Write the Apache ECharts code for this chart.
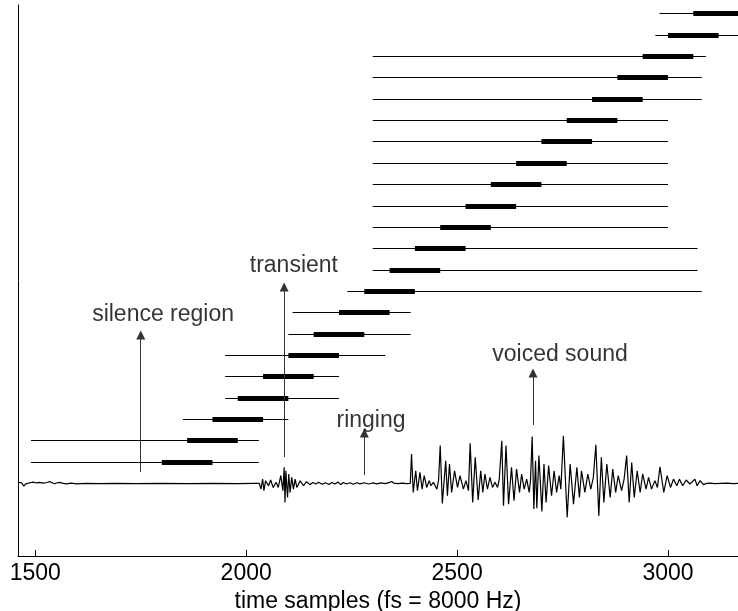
<!DOCTYPE html>
<html>
<head>
<meta charset="utf-8">
<style>
  html, body { margin: 0; padding: 0; background: #fff; }
  #chart { width: 738px; height: 611px; }
</style>
<script src="https://cdn.jsdelivr.net/npm/echarts@6/dist/echarts.min.js"></script>
</head>
<body>
<div id="chart"></div>
<script>
// Analysis frames: frame k sits at height level k + 1 above the waveform baseline.
const frameStart = [1800, 1860, 1920, 1980, 2040, 2100, 2160, 2220, 2280, 2340, 2400,
                    2460, 2520, 2580, 2640, 2700, 2760, 2820, 2880, 2940, 3000, 3060];
const frameEnd   = [1920, 1980, 2040, 2100, 2160, 2220, 2280, 2340, 2400, 2460, 2520,
                    2580, 2640, 2700, 2760, 2820, 2880, 2940, 3000, 3060, 3120, 3180];
// Search window around each frame (thin line)
const windowStart = [1490, 1490, 1850, 1950, 1950, 1950, 2100, 2110, 2240, 2300, 2300,
                     2300, 2300, 2300, 2300, 2300, 2300, 2300, 2300, 2300, 2970, 2980];
const windowEnd   = [2030, 2030, 2100, 2220, 2220, 2330, 2390, 2390, 3080, 3070, 3070,
                     3000, 3000, 3000, 3000, 3000, 3000, 3080, 3080, 3090, 3170, 3170];

// Speech waveform, [sample, amplitude]
const waveSilence = [
  [1461, 0.05], [1464, 0.14], [1468, 0.02], [1473, -0.13], [1477, -0.02], [1481, 0.0],
  [1488, 0.03], [1495, 0.06], [1503, 0.02], [1510, 0.05], [1519, 0.01], [1527, 0.04],
  [1535, 0.08], [1541, 0.02], [1546, -0.02], [1552, 0.03], [1558, 0.05], [1566, 0.0],
  [1574, -0.02], [1585, 0.01], [1598, -0.02], [1620, 0.0], [1650, -0.01], [1690, 0.0],
  [1740, -0.01], [1800, 0.0], [1860, -0.01], [1920, 0.0], [1980, -0.01], [2020, 0.0], [2031, 0.0]
];
const waveTransient = [
  [2035, -0.27], [2039, 0.20], [2042, -0.34], [2046, 0.12], [2053, -0.11], [2058, 0.16],
  [2064, -0.19], [2071, 0.05], [2076, -0.19], [2082, 0.36], [2087, -0.34], [2090, 0.75],
  [2092, -0.89], [2094, 0.59], [2098, -0.66], [2101, 0.44], [2104, -0.42], [2108, 0.28],
  [2112, -0.27], [2116, 0.20], [2120, -0.19], [2128, 0.12], [2136, -0.11], [2143, 0.08],
  [2151, -0.06]
];
const waveRinging = [
  [2158, 0.04], [2165, -0.03], [2172, 0.05], [2180, -0.04], [2188, 0.03], [2196, -0.05],
  [2203, 0.04], [2210, -0.03], [2218, 0.06], [2224, -0.06], [2230, 0.04], [2238, -0.03],
  [2246, 0.03], [2254, -0.04], [2262, 0.03], [2270, -0.02], [2280, 0.03], [2290, -0.03],
  [2300, 0.02], [2310, -0.02], [2320, 0.02], [2330, -0.01], [2340, 0.05], [2345, 0.09],
  [2350, 0.01], [2360, -0.01], [2370, 0.01], [2380, -0.01], [2389, 0.0]
];
const waveVoiced = [
  [2392, 1.38], [2396, -0.42], [2402, 0.59], [2406, -0.34], [2412, 0.52], [2417, -0.27],
  [2422, 0.36], [2428, -0.19], [2434, 0.13], [2438, -0.11], [2444, 0.05], [2452, -0.27],
  [2456, 0.13],
  [2460, 1.77], [2465, -0.94], [2473, 1.06], [2477, -0.58], [2482, 0.91], [2487, -0.42],
  [2494, 0.59], [2501, -0.19], [2507, 0.36], [2515, -0.27], [2521, 0.13], [2527, -0.34],
  [2531, 1.88], [2537, -0.89], [2543, 1.22], [2550, -0.78], [2556, 0.59], [2561, -0.42],
  [2566, 0.44], [2572, -0.27], [2578, 0.28], [2584, -0.19], [2590, 0.05], [2596, -0.19],
  [2600, 0.20],
  [2606, 2.00], [2610, -1.05], [2616, 1.77], [2622, -0.97], [2629, 0.75], [2635, -0.81],
  [2641, 0.67], [2648, -0.42], [2653, 0.44], [2659, -0.27], [2665, 0.20], [2671, -0.42],
  [2674, 0.13],
  [2678, 2.19], [2682, -1.20], [2686, 1.06], [2689, -1.16], [2694, 1.30], [2701, -1.31],
  [2706, 0.91], [2711, -0.89], [2717, 0.83], [2724, -0.58], [2730, 0.59], [2736, -0.42],
  [2742, 0.36], [2746, -0.27],
  [2752, 2.23], [2761, -1.59], [2768, 0.91], [2776, -0.97], [2784, 0.75], [2790, -0.66],
  [2795, 0.59], [2803, -0.42], [2810, 0.44], [2817, -0.27], [2823, 0.28],
  [2829, 1.81], [2836, -1.52], [2842, 1.22], [2848, -0.89], [2855, 0.91], [2863, -0.66],
  [2869, 0.67], [2876, -0.42], [2882, 0.36], [2890, -0.34], [2896, 0.20],
  [2902, 1.30], [2908, -0.89], [2914, 0.98], [2920, -0.66], [2927, 0.59], [2934, -0.42],
  [2940, 0.44], [2948, -0.27], [2954, 0.28], [2961, -0.27], [2969, 0.13], [2975, -0.19],
  [2981, 0.78], [2990, -0.42], [2998, 0.36], [3006, -0.19], [3013, 0.20], [3021, -0.11],
  [3027, 0.20], [3035, -0.11], [3043, 0.16], [3052, -0.03], [3064, 0.20], [3069, -0.11],
  [3076, 0.13], [3084, -0.06]
];
const waveTail = [
  [3092, 0.0], [3100, 0.01], [3110, -0.01], [3125, 0.0], [3140, 0.01], [3155, -0.01], [3166, 0.0]
];

// Annotation arrows [sample, from level, to level] and their captions
const arrowX    = [1750, 2090, 2280, 2680];
const arrowFrom = [0.53, 1.23, 0.39, 2.73];
const arrowTo   = [6.95, 9.19, 2.36, 5.17];
const captionText = ['silence region', 'transient', 'ringing', 'voiced sound'];
const captionX    = [1803, 2113, 2296, 2744];
const captionY    = [7.9, 10.2, 2.95, 6.05];

const xTicks = [1500, 2000, 2500, 3000];

const FONT = '"Liberation Sans", Arial, Helvetica, sans-serif';

const waveform = [].concat(waveSilence, waveTransient, waveRinging, waveVoiced, waveTail);

const thinLines = windowStart.map((s, k) => ({ coords: [[s, k + 1], [windowEnd[k], k + 1]] }));
const thickLines = frameStart.map((s, k) => ({ coords: [[s, k + 1], [frameEnd[k], k + 1]] }));
const arrows = arrowX.map((x, i) => ({ coords: [[x, arrowFrom[i]], [x, arrowTo[i]]] }));
const captions = captionText.map((t, i) => ({ name: t, value: [captionX[i], captionY[i]] }));

const chart = echarts.init(document.getElementById('chart'), null, { renderer: 'canvas' });
chart.setOption({
  animation: false,
  backgroundColor: '#ffffff',
  grid: { left: 18, right: 0, top: 5, bottom: 55, containLabel: false, outerBoundsMode: 'none' },
  xAxis: {
    type: 'value',
    min: 1459,
    max: 3166,
    name: 'time samples (fs = 8000 Hz)',
    nameLocation: 'middle',
    nameGap: 24,
    nameTextStyle: { color: '#000', fontSize: 23, fontFamily: FONT },
    axisLine: { show: true, onZero: false, lineStyle: { color: '#000', width: 1 } },
    axisTick: { show: true, inside: true, length: 6, customValues: xTicks, lineStyle: { color: '#000' } },
    axisLabel: {
      show: true, customValues: xTicks, color: '#000', fontSize: 23, fontFamily: FONT, margin: 6,
      formatter: (v) => String(v)
    },
    splitLine: { show: false }
  },
  yAxis: {
    type: 'value',
    min: -3.4,
    max: 22.4,
    axisLine: { show: true, onZero: false, lineStyle: { color: '#000', width: 1 } },
    axisTick: { show: false },
    axisLabel: { show: false },
    splitLine: { show: false }
  },
  series: [
    {
      type: 'line',
      data: waveform,
      showSymbol: false,
      symbol: 'none',
      lineStyle: { color: '#000', width: 1.2 },
      z: 3
    },
    {
      type: 'lines',
      coordinateSystem: 'cartesian2d',
      data: thinLines,
      lineStyle: { color: '#000', width: 1, opacity: 1 },
      z: 2
    },
    {
      type: 'lines',
      coordinateSystem: 'cartesian2d',
      data: thickLines,
      lineStyle: { color: '#000', width: 5, opacity: 1, cap: 'butt' },
      z: 4
    },
    {
      type: 'lines',
      coordinateSystem: 'cartesian2d',
      data: arrows,
      symbol: ['none', 'triangle'],
      symbolSize: [6, 9],
      lineStyle: { color: '#333', width: 1, opacity: 1 },
      itemStyle: { color: '#000' },
      z: 5
    },
    {
      type: 'scatter',
      data: captions,
      symbolSize: 0,
      label: {
        show: true,
        position: 'inside',
        formatter: '{b}',
        color: '#000',
        fontSize: 23,
        fontFamily: FONT
      },
      z: 6
    }
  ]
});
</script>
</body>
</html>
